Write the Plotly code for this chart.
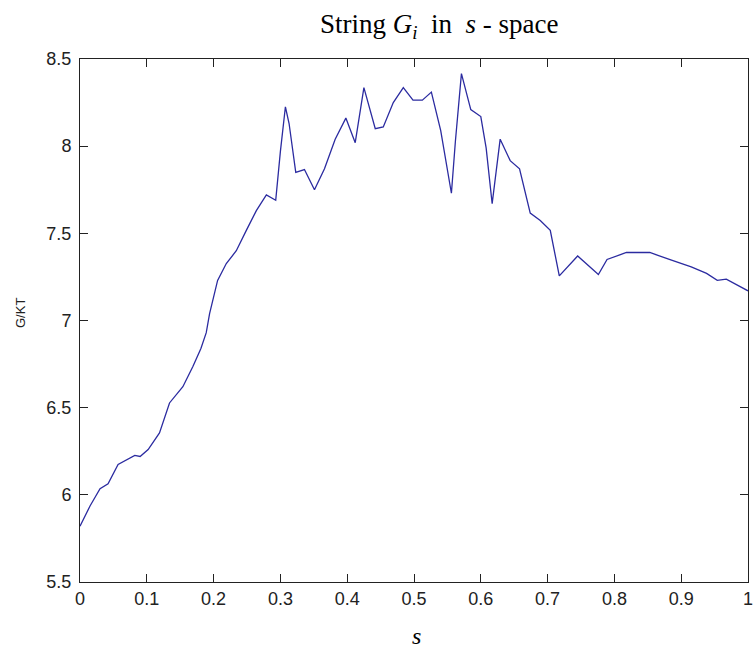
import plotly.graph_objects as go

s_vals = [0, 0.015, 0.030, 0.042, 0.057, 0.070, 0.082, 0.090, 0.102, 0.119, 0.127, 0.134,
          0.154, 0.169, 0.181, 0.189, 0.194, 0.2015, 0.206, 0.219, 0.234, 0.249, 0.264,
          0.279, 0.293, 0.300, 0.3075, 0.313, 0.323, 0.336, 0.351, 0.366, 0.382, 0.398,
          0.412, 0.425, 0.442, 0.454, 0.469, 0.484, 0.4985, 0.5125, 0.526, 0.540, 0.556,
          0.562, 0.571, 0.585, 0.600, 0.608, 0.617, 0.629, 0.644, 0.658, 0.674, 0.689,
          0.704, 0.7175, 0.745, 0.776, 0.789, 0.818, 0.853, 0.8855, 0.915, 0.938, 0.954,
          0.9675, 0.985, 1.0]
g_vals = [5.82, 5.936, 6.035, 6.064, 6.174, 6.203, 6.226, 6.22, 6.26, 6.355, 6.45, 6.527,
          6.62, 6.736, 6.84, 6.93, 7.04, 7.155, 7.23, 7.327, 7.40, 7.517, 7.63,
          7.72, 7.69, 7.97, 8.226, 8.13, 7.85, 7.866, 7.75, 7.87, 8.04, 8.161,
          8.02, 8.336, 8.10, 8.11, 8.25, 8.336, 8.264, 8.264, 8.31, 8.089, 7.73,
          8.03, 8.416, 8.21, 8.17, 7.99, 7.67, 8.04, 7.917, 7.87, 7.616, 7.574,
          7.517, 7.256, 7.37, 7.264, 7.35, 7.39, 7.39, 7.346, 7.307, 7.27, 7.23,
          7.237, 7.20, 7.17]

title_text = "String <i>G<sub>i</sub></i>&nbsp; in &nbsp;<i>s</i> - space"
xlabel = "<i>s</i>"
ylabel = "G/KT"

fig = go.Figure()
fig.add_trace(go.Scatter(x=s_vals, y=g_vals, mode="lines",
                         line=dict(color="#2b2ba0", width=1.3), showlegend=False))

W, H = 753, 652
L, R, T, B = 80, 5, 59, 70
ph = H - T - B
pw = W - L - R

def py(p):
    return (H - B - p) / ph

def px(p):
    return (p - L) / pw

axis_common = dict(showline=True, linecolor="#222", linewidth=1, mirror="ticks",
                   ticks="inside", ticklen=8, tickcolor="#222", tickwidth=1,
                   showgrid=False, zeroline=False, ticklabeloverflow="allow",
                   automargin=False,
                   tickfont=dict(family="Liberation Sans, Arial", size=18, color="#222"))

fig.update_layout(
    width=W, height=H, margin=dict(l=L, r=R, t=T, b=B),
    paper_bgcolor="white", plot_bgcolor="white",
    xaxis=dict(range=[0, 1], dtick=0.1, tick0=0, **axis_common),
    yaxis=dict(range=[5.5, 8.5], dtick=0.5, tick0=5.5, ticklabelstandoff=4, **axis_common),
    annotations=[
        dict(text=title_text, x=px(439.5), y=py(26), xref="paper", yref="paper",
             xanchor="center", yanchor="middle", showarrow=False,
             font=dict(family="Liberation Serif, Times New Roman", size=27, color="black")),
        dict(text=xlabel, x=px(416), y=py(651), xref="paper", yref="paper",
             xanchor="center", yanchor="bottom", showarrow=False,
             font=dict(family="Liberation Serif, Times New Roman", size=24, color="black")),
        dict(text=ylabel, x=px(20), y=py(313), xref="paper", yref="paper",
             xanchor="center", yanchor="middle", showarrow=False, textangle=-90,
             font=dict(family="Liberation Sans, Arial", size=13, color="#222")),
    ],
)

fig.write_html("out.html")
